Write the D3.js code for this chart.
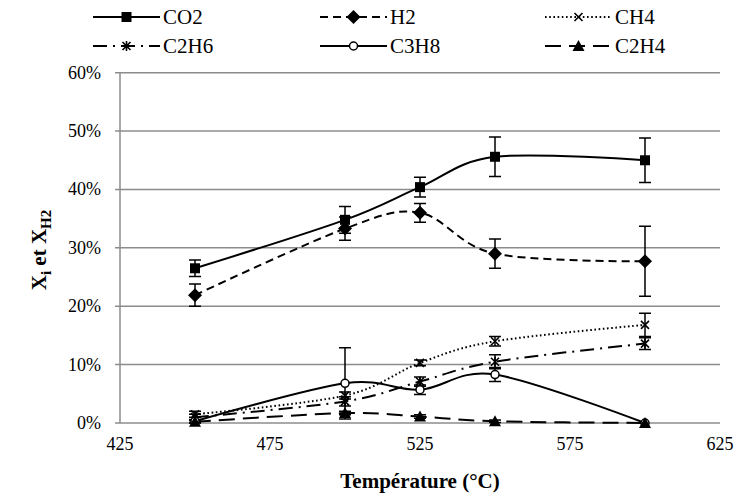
<!DOCTYPE html>
<html><head><meta charset="utf-8">
<script src="https://cdn.jsdelivr.net/npm/d3@7"></script>
<style>body{margin:0;background:#fff}svg{display:block}svg text{font-family:"Liberation Serif","Times New Roman",serif}</style>
</head><body>
<svg id="c" width="740" height="501"></svg>
<script>
const temps = [450, 500, 525, 550, 600];
const seriesNames = ["CO2", "H2", "CH4", "C2H6", "C3H8", "C2H4"];
const CO2 = [26.5, 34.8, 40.4, 45.6, 45.0];
const H2 = [21.9, 33.3, 36.0, 29.0, 27.7];
const CH4 = [1.5, 4.7, 10.3, 14.0, 16.8];
const C2H6 = [1.0, 3.7, 7.1, 10.5, 13.6];
const C3H8 = [0.3, 6.8, 5.7, 8.3, 0.0];
const C2H4 = [0.2, 1.7, 1.1, 0.3, 0.0];
const errCO2 = [1.4, 2.3, 1.7, 3.4, 3.8];
const errH2 = [1.9, 2.0, 1.6, 2.5, 6.0];
const errCH4 = [0.5, 0.6, 0.5, 0.8, 2.0];
const errC2H6 = [0.5, 0.8, 0.8, 1.2, 1.0];
const errC3H8 = [0.3, 6.1, 0.8, 1.2, 0.0];
const errC2H4 = [0.2, 0.3, 0.3, 0.2, 0.0];
const xTicks = [425, 475, 525, 575, 625];
const yTicks = [0, 10, 20, 30, 40, 50, 60];

const values = [CO2, H2, CH4, C2H6, C3H8, C2H4];
const errors = [errCO2, errH2, errCH4, errC2H6, errC3H8, errC2H4];
const styles = [
  {dash: null, marker: "square"},
  {dash: "8,5", marker: "diamond"},
  {dash: "1.6,2.6", marker: "x"},
  {dash: "14,6,2,6", marker: "star"},
  {dash: null, marker: "circle"},
  {dash: "16,8", marker: "triangle"}
];

const svg = d3.select("#c");
const L = 120, R = 720, T = 72.7, B = 423;
const x = d3.scaleLinear().domain([425, 625]).range([L, R]);
const y = d3.scaleLinear().domain([0, 60]).range([B, T]);
const font = "Liberation Serif";
const grid = "#8c8c8c";

svg.append("g").selectAll("line").data(yTicks).join("line")
  .attr("x1", L - 5).attr("x2", R).attr("y1", d => y(d)).attr("y2", d => y(d))
  .attr("stroke", grid).attr("stroke-width", 1.5);
svg.append("line").attr("x1", L).attr("x2", L).attr("y1", T).attr("y2", B)
  .attr("stroke", grid).attr("stroke-width", 1.5);

svg.append("g").selectAll("text").data(yTicks).join("text")
  .attr("x", 101).attr("y", d => y(d) + 6)
  .attr("text-anchor", "end").attr("font-family", font).attr("font-size", 18)
  .text(d => d + "%");
svg.append("g").selectAll("text").data(xTicks).join("text")
  .attr("x", d => x(d)).attr("y", 450)
  .attr("text-anchor", "middle").attr("font-family", font).attr("font-size", 18)
  .text(d => d);

svg.append("text").attr("x", 420).attr("y", 488).attr("text-anchor", "middle")
  .attr("font-family", font).attr("font-size", 21).attr("font-weight", "bold")
  .text("Température (°C)");
const yt = svg.append("text").attr("transform", "translate(46,250) rotate(-90)")
  .attr("text-anchor", "middle").attr("font-family", font).attr("font-size", 21).attr("font-weight", "bold");
yt.append("tspan").text("X");
yt.append("tspan").attr("font-size", 15).attr("dy", 5).text("i");
yt.append("tspan").attr("dy", -5).text(" et X");
yt.append("tspan").attr("font-size", 15).attr("dy", 5).text("H2");

function drawMarker(g, type, cx, cy) {
  const m = g.append("g").attr("transform", `translate(${cx},${cy})`);
  if (type === "square") m.append("rect").attr("x", -5).attr("y", -5).attr("width", 10).attr("height", 10).attr("fill", "#000");
  else if (type === "diamond") m.append("path").attr("d", "M0,-7L7,0L0,7L-7,0Z").attr("fill", "#000");
  else if (type === "triangle") m.append("path").attr("d", "M0,-6L6,5L-6,5Z").attr("fill", "#000");
  else if (type === "circle") m.append("circle").attr("r", 4).attr("fill", "#fff").attr("stroke", "#000").attr("stroke-width", 1.5);
  else if (type === "x") m.append("path").attr("d", "M-4,-4L4,4M4,-4L-4,4").attr("stroke", "#000").attr("stroke-width", 1.6);
  else if (type === "star") m.append("path").attr("d", "M-4,-4L4,4M4,-4L-4,4M0,-5L0,5").attr("stroke", "#000").attr("stroke-width", 1.6);
}

const line = d3.line().x(d => x(d[0])).y(d => y(d[1])).curve(d3.curveCardinal.tension(0));
const plot = svg.append("g");
values.forEach((vals, i) => {
  const pts = temps.map((t, j) => [t, vals[j]]);
  plot.append("path").attr("d", line(pts)).attr("fill", "none").attr("stroke", "#000")
    .attr("stroke-width", 2).attr("stroke-dasharray", styles[i].dash);
});
values.forEach((vals, i) => {
  temps.forEach((t, j) => {
    const e = errors[i][j];
    if (e > 0) {
      const cx = x(t), y1 = y(vals[j] + e), y2 = y(Math.max(0, vals[j] - e));
      plot.append("path").attr("d", `M${cx},${y1}V${y2}M${cx-6},${y1}H${cx+6}M${cx-6},${y2}H${cx+6}`)
        .attr("stroke", "#000").attr("stroke-width", 1.5).attr("fill", "none");
    }
  });
});
values.forEach((vals, i) => {
  temps.forEach((t, j) => drawMarker(plot, styles[i].marker, x(t), y(vals[j])));
});

const legX = [93, 320, 545], legY = [17, 46];
seriesNames.forEach((name, i) => {
  const col = i % 3, row = Math.floor(i / 3);
  const g = svg.append("g");
  const x0 = legX[col], x1 = x0 + 67, yy = legY[row];
  g.append("line").attr("x1", x0).attr("x2", x1).attr("y1", yy).attr("y2", yy)
    .attr("stroke", "#000").attr("stroke-width", 2).attr("stroke-dasharray", styles[i].dash);
  drawMarker(g, styles[i].marker, (x0 + x1) / 2, yy);
  g.append("text").attr("x", x1 + 3).attr("y", yy + 7).attr("font-family", font).attr("font-size", 21).text(name);
});
</script>
</body></html>
